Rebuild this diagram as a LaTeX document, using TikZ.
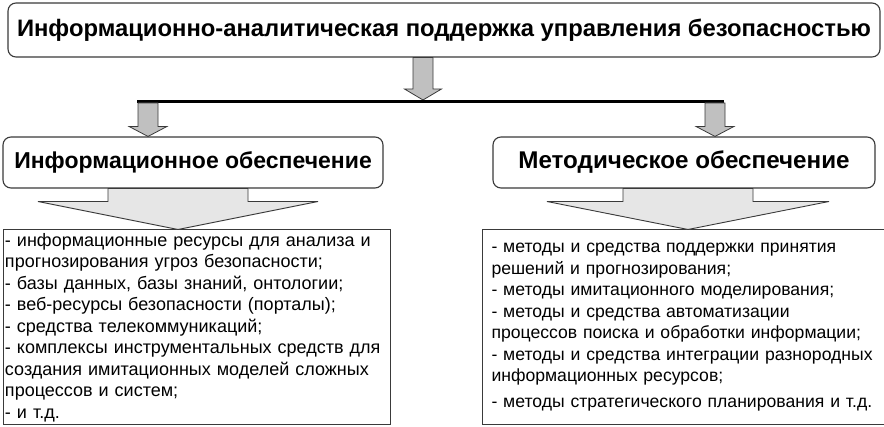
\documentclass[tikz,border=0pt]{standalone}
\usepackage{fontspec}
\setmainfont{Liberation Sans}
\usetikzlibrary{calc}
\definecolor{edge}{HTML}{3A3A3A}
\definecolor{smallfill}{HTML}{C0C0C0}
\definecolor{bigfill}{HTML}{E6E6E6}
\tikzset{
  rbox/.style={draw=edge, line width=1.1pt, rounded corners=8pt, fill=white, inner sep=0pt},
  listbox/.style={draw=edge, line width=1pt, fill=white, inner ysep=0pt, align=left, anchor=center},
  smallarrow/.style={draw=edge, line width=0.8pt, fill=smallfill},
  bigarrow/.style={draw=edge, line width=0.9pt, fill=bigfill},
  bar/.style={line width=3.5pt, black},
}
\newcommand\blkarrow[6]{%
  \path[#1] let \p1=(#2), \p2=(#3) in
    (\x1-#4pt,\y1) -- (\x1-#4pt,\y2+#6pt) -- (\x1-#5pt,\y2+#6pt) -- (\x1,\y2)
    -- (\x1+#5pt,\y2+#6pt) -- (\x1+#4pt,\y2+#6pt) -- (\x1+#4pt,\y1) -- cycle;}
\begin{document}
\begin{tikzpicture}[x=1pt,y=-1pt]
\useasboundingbox (0,0) rectangle (884,427);
% top box
\node[rbox, minimum width=872pt, minimum height=54pt, font=\fontsize{23.8}{28}\selectfont\bfseries]
  (top) at (444,30) {Информационно-аналитическая поддержка управления безопасностью};
% headers
\node[rbox, minimum width=380pt, minimum height=51pt, font=\fontsize{23}{27}\selectfont\bfseries]
  (lh) at (193,162.5) {Информационное обеспечение};
\node[rbox, minimum width=382pt, minimum height=51pt, font=\fontsize{24.2}{27}\selectfont\bfseries]
  (rh) at (684,162.5) {Методическое обеспечение};
% lists
\node[listbox, inner xsep=2pt, minimum width=387pt, minimum height=195pt, text width=383pt,
  font=\fontsize{18}{21.5}\selectfont] (ll) at (196.5,327.5) {%
- информационные ресурсы для анализа и\\
прогнозирования угроз безопасности;\\
- базы данных, базы знаний, онтологии;\\
- веб-ресурсы безопасности (порталы);\\
- средства телекоммуникаций;\\
- комплексы инструментальных средств для\\
создания имитационных моделей сложных\\
процессов и систем;\\
- и т.д.};
\node[listbox, inner xsep=9pt, minimum width=398pt, minimum height=195pt, text width=385pt,
  font=\fontsize{17.6}{21.5}\selectfont] (rl) at (684,327.5) {%
- методы и средства поддержки принятия\\
решений и прогнозирования;\\
- методы имитационного моделирования;\\
- методы и средства автоматизации\\
процессов поиска и обработки информации;\\
- методы и средства интеграции разнородных\\
информационных ресурсов;\\[4.5pt]
- методы стратегического планирования и т.д.};
% bar
\coordinate (barL) at (137,101.5);
\coordinate (barR) at (724,101.5);
\coordinate (ta) at ($(top.south)+(-21,0)$);
\coordinate (la) at ($(barL)+(11,1.5)$);
\coordinate (ra) at ($(barR)+(-9,1.5)$);
\coordinate (lb) at ($(lh.south)+(-15,0)$);
\coordinate (rb) at ($(rh.south)+(4,0)$);
\blkarrow{smallarrow}{ta}{ta |- 0,100}{10}{18.5}{11}
\draw[bar] (barL) -- (barR);
\blkarrow{smallarrow}{la}{la |- lh.north}{10}{19}{10}
\blkarrow{smallarrow}{ra}{ra |- rh.north}{10}{19}{10}
\blkarrow{bigarrow}{lb}{lb |- ll.north}{70}{140}{28}
\blkarrow{bigarrow}{rb}{rb |- rl.north}{65}{141}{28}
\end{tikzpicture}
\end{document}
